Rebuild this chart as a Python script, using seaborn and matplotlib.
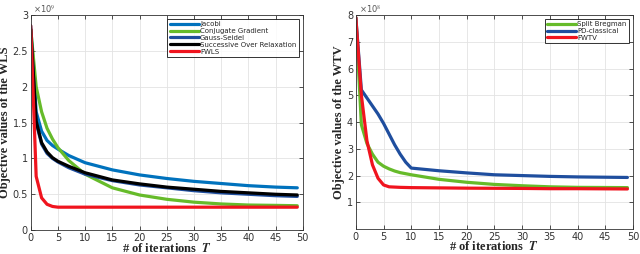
import numpy as np
import pandas as pd
import seaborn as sns
import matplotlib
matplotlib.use("Agg")
import matplotlib.pyplot as plt
from matplotlib.ticker import FuncFormatter

# left panel (WLS), values in units of 1e9
wls_iter = [0, 1, 2, 3, 4, 5, 7, 10, 15, 20, 25, 30, 35, 40, 45, 49]
jacobi = [2.85, 1.65, 1.38, 1.25, 1.18, 1.13, 1.04, 0.94, 0.84, 0.77, 0.72, 0.68, 0.65, 0.62, 0.60, 0.59]
conj_grad = [2.80, 2.00, 1.65, 1.42, 1.27, 1.15, 0.97, 0.78, 0.59, 0.49, 0.43, 0.39, 0.365, 0.35, 0.345, 0.34]
gauss_seidel = [2.80, 1.50, 1.20, 1.07, 1.00, 0.95, 0.87, 0.78, 0.69, 0.63, 0.59, 0.55, 0.52, 0.50, 0.48, 0.47]
sor = [2.80, 1.52, 1.22, 1.09, 1.01, 0.96, 0.89, 0.80, 0.70, 0.645, 0.60, 0.57, 0.54, 0.52, 0.50, 0.49]
fwls = [2.85, 0.75, 0.45, 0.36, 0.33, 0.32, 0.32, 0.32, 0.32, 0.32, 0.32, 0.32, 0.32, 0.32, 0.32, 0.32]

# right panel (WTV), values in units of 1e8
wtv_iter = [0, 1, 2, 3, 4, 5, 6, 7, 8, 9, 10, 15, 20, 25, 30, 35, 40, 49]
split_bregman = [7.9, 3.9, 3.2, 2.8, 2.5, 2.35, 2.25, 2.17, 2.11, 2.07, 2.03, 1.86, 1.75, 1.67, 1.62, 1.58, 1.56, 1.55]
pd_classical = [7.9, 5.2, 4.9, 4.6, 4.3, 3.95, 3.55, 3.15, 2.8, 2.5, 2.28, 2.18, 2.1, 2.03, 2.0, 1.97, 1.95, 1.93]
fwtv = [7.9, 5.0, 3.3, 2.4, 1.9, 1.65, 1.58, 1.57, 1.56, 1.555, 1.55, 1.54, 1.53, 1.525, 1.52, 1.51, 1.51, 1.5]

wls_series = {
    "Jacobi": (jacobi, "#0072BD"),
    "Conjugate Gradient": (conj_grad, "#66BB2A"),
    "Gauss-Seidel": (gauss_seidel, "#1F4E9E"),
    "Successive Over Relaxation": (sor, "#000000"),
    "FWLS": (fwls, "#F0141E"),
}
wtv_series = {
    "Split Bregman": (split_bregman, "#66BB2A"),
    "PD-classical": (pd_classical, "#1F4E9E"),
    "FWTV": (fwtv, "#F0141E"),
}

sns.set_style("ticks")
plt.rcParams["font.family"] = ["DejaVu Sans"]
plt.rcParams["mathtext.fontset"] = "stix"

fig = plt.figure(figsize=(6.4, 2.54), dpi=100)
ax1 = fig.add_axes([0.048, 0.094, 0.425, 0.847])
ax2 = fig.add_axes([0.556, 0.098, 0.433, 0.843])


def draw(ax, xs, series, scale, ylim, yticks, ylabel, exp):
    for name, (vals, col) in series.items():
        df = pd.DataFrame({"it": xs, "v": np.array(vals) * scale})
        sns.lineplot(data=df, x="it", y="v", ax=ax, color=col, lw=2.3, label=name)
    ax.set_xlim(0, 50)
    ax.set_ylim(*ylim)
    ax.set_xticks(range(0, 51, 5))
    ax.set_yticks(np.array(yticks) * scale)
    ax.yaxis.set_major_formatter(FuncFormatter(lambda v, p: f"{v / scale:g}"))
    ax.grid(True, color="#e3e3e3", lw=0.6)
    ax.tick_params(direction="in", length=3, width=0.6, labelsize=7, colors="#333333",
                   top=True, right=True, pad=2)
    for s in ax.spines.values():
        s.set_color("#333333")
        s.set_linewidth(0.6)
    ax.set_xlabel("# of iterations  $\\mathbfit{T}$", family="Liberation Serif",
                  fontweight="bold", fontsize=9, labelpad=-1)
    ax.set_ylabel(ylabel, family="Liberation Serif", fontweight="bold", fontsize=9, labelpad=1)
    ax.text(0.01, 1.0, "×10$^{%d}$" % exp, transform=ax.transAxes, fontsize=6,
            color="#555555", va="bottom", ha="left")
    leg = ax.legend(loc="upper right", fontsize=5, frameon=True, fancybox=False,
                    borderpad=0.3, labelspacing=0.12, handlelength=4.2, handletextpad=0.2,
                    borderaxespad=0.6)
    leg.get_frame().set_edgecolor("black")
    leg.get_frame().set_linewidth(0.7)


draw(ax1, wls_iter, wls_series, 1e9, (0, 3), [0, 0.5, 1, 1.5, 2, 2.5, 3],
     "Objective values of the WLS", 9)
draw(ax2, wtv_iter, wtv_series, 1e8, (1, 8), [1, 2, 3, 4, 5, 6, 7, 8],
     "Objective values of the WTV", 8)

fig.savefig("out.png", dpi=100)
